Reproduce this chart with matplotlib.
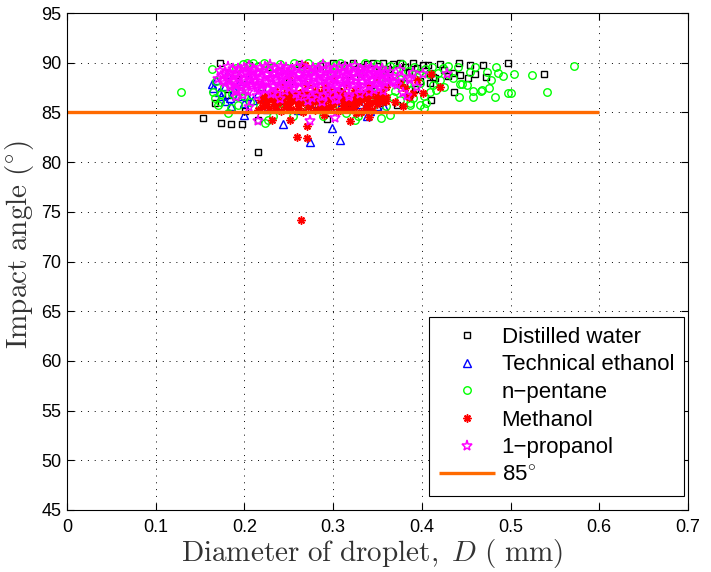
import matplotlib
matplotlib.use("Agg")
import matplotlib.pyplot as plt
from matplotlib.ticker import FixedLocator, FixedFormatter

plt.rcParams["font.family"] = ["Liberation Sans", "DejaVu Sans"]
plt.rcParams["mathtext.fontset"] = "cm"

# ---- measured droplets: diameter D (mm) and impact angle (deg) ----
water_d = [0.172, 0.205, 0.228, 0.262, 0.285, 0.300, 0.312, 0.322, 0.331, 0.338,
           0.345, 0.352, 0.356, 0.362, 0.368, 0.375, 0.381, 0.386, 0.390, 0.395,
           0.401, 0.407, 0.409, 0.412, 0.415, 0.420, 0.425, 0.430, 0.435, 0.436,
           0.442, 0.443, 0.452, 0.454, 0.460, 0.469, 0.472, 0.497, 0.538, 0.409,
           0.372, 0.392, 0.398, 0.380, 0.360, 0.343, 0.330, 0.315, 0.290, 0.250,
           0.220, 0.190, 0.240, 0.305, 0.350, 0.270,
           0.153, 0.174, 0.185, 0.197, 0.215, 0.215, 0.293, 0.167, 0.201, 0.240,
           0.320, 0.352, 0.385, 0.410, 0.182]
water_angle = [90.0, 89.8, 89.6, 89.9, 89.7, 90.0, 89.8, 90.0, 89.6, 89.9,
               90.0, 89.7, 90.0, 89.4, 89.9, 90.0, 89.6, 89.1, 90.0, 89.5,
               89.8, 89.8, 89.0, 88.6, 88.5, 89.9, 89.3, 88.7, 89.0, 87.1,
               90.0, 88.8, 88.5, 89.8, 88.9, 89.8, 88.6, 90.0, 88.9, 88.0,
               85.7, 87.4, 88.2, 88.0, 88.6, 87.8, 88.9, 88.3, 88.6, 88.1,
               87.6, 88.8, 89.2, 87.2, 86.1, 86.4,
               84.4, 83.9, 83.8, 83.8, 81.0, 84.2, 84.3, 85.9, 85.1, 85.5,
               85.3, 85.9, 86.7, 86.2, 86.8]

ethanol_d = [0.163, 0.165, 0.171, 0.174, 0.184, 0.185, 0.193, 0.199, 0.199, 0.203,
             0.168, 0.178, 0.188, 0.210, 0.243, 0.274, 0.299, 0.308, 0.319, 0.338,
             0.349, 0.330, 0.310, 0.296, 0.280, 0.260, 0.235, 0.225, 0.215, 0.195,
             0.180, 0.205, 0.250, 0.290, 0.335, 0.357, 0.342, 0.225, 0.270, 0.178]
ethanol_angle = [87.9, 87.5, 87.1, 86.6, 86.4, 85.6, 86.6, 85.9, 84.7, 86.6,
                 88.3, 87.7, 87.3, 86.2, 83.8, 82.0, 83.4, 82.2, 85.4, 84.6,
                 85.6, 85.8, 86.0, 85.5, 85.9, 85.2, 86.0, 86.5, 87.0, 88.2,
                 88.9, 88.5, 86.8, 87.2, 86.9, 85.5, 85.1, 85.3, 85.4, 86.1]

pentane_d = [0.129, 0.571, 0.541, 0.524, 0.504, 0.501, 0.492, 0.484, 0.486, 0.483,
             0.476, 0.467, 0.458, 0.458, 0.442, 0.441, 0.430, 0.435, 0.445, 0.451,
             0.454, 0.473, 0.460, 0.416, 0.409, 0.405, 0.398, 0.387, 0.402, 0.364,
             0.354, 0.368, 0.387, 0.398, 0.394, 0.402, 0.387, 0.497, 0.468, 0.443,
             0.478, 0.163, 0.165, 0.167, 0.170, 0.174, 0.182, 0.191, 0.193, 0.203,
             0.210, 0.223, 0.227, 0.168, 0.172, 0.185, 0.196, 0.177, 0.206, 0.218,
             0.232, 0.255, 0.289, 0.325, 0.328, 0.232, 0.265, 0.300, 0.315, 0.190,
             0.198, 0.215, 0.222, 0.232, 0.240, 0.248, 0.256, 0.265, 0.272, 0.280,
             0.287, 0.295, 0.302, 0.308, 0.316, 0.323, 0.330, 0.336, 0.343, 0.350,
             0.358, 0.364, 0.371, 0.378, 0.384, 0.391, 0.397, 0.404, 0.411, 0.418,
             0.424, 0.430, 0.420, 0.413, 0.425, 0.408, 0.375, 0.383, 0.360, 0.352,
             0.370, 0.345, 0.390, 0.375, 0.360, 0.345, 0.340, 0.183, 0.186, 0.200,
             0.240, 0.265, 0.285, 0.310, 0.330, 0.300, 0.270]
pentane_angle = [87.1, 89.7, 87.1, 88.8, 88.9, 87.0, 88.7, 89.6, 89.0, 86.5,
                 87.5, 87.2, 87.2, 86.5, 86.5, 89.6, 89.7, 88.5, 87.9, 87.8,
                 89.1, 89.1, 89.6, 87.3, 87.1, 85.9, 85.7, 85.9, 86.6, 84.7,
                 84.4, 86.5, 87.3, 88.0, 88.6, 85.4, 85.7, 87.0, 87.3, 87.9,
                 88.3, 89.4, 87.1, 86.4, 85.7, 86.9, 84.9, 86.6, 85.7, 90.0,
                 90.0, 83.9, 84.2, 88.2, 86.0, 85.4, 87.2, 87.6, 86.0, 85.6,
                 84.6, 84.6, 84.6, 84.2, 84.6, 86.4, 85.6, 85.3, 84.9, 89.5,
                 89.9, 89.7, 90.0, 89.6, 89.9, 89.5, 90.0, 89.7, 90.0, 89.6,
                 89.9, 89.4, 89.8, 90.0, 89.5, 89.8, 89.3, 90.0, 89.6, 89.9,
                 89.3, 89.7, 89.4, 89.9, 89.2, 89.6, 89.0, 89.4, 89.6, 89.0,
                 89.5, 88.9, 88.3, 87.8, 87.6, 88.9, 88.4, 87.9, 87.9, 88.5,
                 87.2, 87.0, 86.4, 86.2, 85.6, 85.7, 86.4, 87.9, 86.9, 86.7,
                 85.9, 86.3, 86.1, 86.3, 86.5, 89.1, 89.2]

methanol_d = [0.215, 0.228, 0.241, 0.253, 0.266, 0.279, 0.292, 0.305, 0.318, 0.331, 0.344,
              0.222, 0.235, 0.248, 0.260, 0.273, 0.286, 0.299, 0.312, 0.325, 0.338, 0.350,
              0.218, 0.231, 0.244, 0.257, 0.270, 0.283, 0.296, 0.309, 0.322, 0.335, 0.348, 0.360,
              0.226, 0.239, 0.252, 0.265, 0.278, 0.291, 0.304, 0.317, 0.330, 0.343, 0.356,
              0.235, 0.250, 0.265, 0.280, 0.295, 0.310, 0.325, 0.340, 0.355,
              0.245, 0.270, 0.290, 0.315, 0.340, 0.360,
              0.220, 0.234, 0.247, 0.260, 0.272, 0.285, 0.298, 0.311, 0.324, 0.337,
              0.225, 0.238, 0.251, 0.264, 0.277, 0.290, 0.303, 0.316, 0.329, 0.342, 0.355,
              0.222, 0.235, 0.248, 0.261, 0.274, 0.287, 0.300, 0.313, 0.326, 0.339, 0.352,
              0.232, 0.245, 0.258, 0.271, 0.284, 0.297, 0.310, 0.323, 0.336, 0.349,
              0.264, 0.259, 0.270, 0.270, 0.251, 0.231, 0.268, 0.326, 0.319, 0.379,
              0.390, 0.401, 0.381, 0.360, 0.370, 0.420, 0.395, 0.350, 0.300, 0.290,
              0.340, 0.250, 0.375, 0.410, 0.385]
methanol_angle = [85.2, 85.4, 85.1, 85.3, 85.0, 85.2, 85.4, 85.1, 85.3, 85.0, 85.2,
                  85.7, 85.8, 85.6, 85.9, 85.7, 85.6, 85.8, 85.7, 85.9, 85.6, 85.8,
                  86.2, 86.3, 86.1, 86.2, 86.4, 86.1, 86.3, 86.2, 86.0, 86.3, 86.2, 86.1,
                  86.7, 86.8, 86.6, 86.9, 86.7, 86.5, 86.8, 86.7, 86.6, 86.9, 86.7,
                  87.2, 87.3, 87.1, 87.2, 87.4, 87.1, 87.3, 87.2, 87.0,
                  87.7, 87.8, 87.6, 87.9, 87.7, 87.6,
                  85.5, 85.4, 85.5, 85.4, 85.5, 85.4, 85.5, 85.4, 85.5, 85.4,
                  86.0, 85.9, 86.0, 85.9, 86.0, 85.9, 86.0, 85.9, 86.0, 85.9, 86.0,
                  86.5, 86.4, 86.5, 86.4, 86.5, 86.4, 86.5, 86.4, 86.5, 86.4, 86.5,
                  87.0, 86.9, 87.0, 86.9, 87.0, 86.9, 87.0, 86.9, 87.0, 86.9,
                  74.2, 82.5, 82.4, 83.6, 84.2, 84.2, 89.8, 84.9, 84.1, 85.6,
                  87.0, 87.0, 87.5, 86.5, 86.0, 87.6, 88.3, 88.6, 88.4, 84.7,
                  84.5, 88.7, 87.9, 88.9, 86.5]

propanol_d = [0.181, 0.193, 0.205, 0.217, 0.229, 0.241, 0.253, 0.265, 0.277, 0.289,
              0.301, 0.313, 0.325, 0.337, 0.349,
              0.187, 0.199, 0.211, 0.223, 0.235, 0.247, 0.259, 0.271, 0.283, 0.295,
              0.307, 0.319, 0.331, 0.343, 0.355,
              0.172, 0.184, 0.196, 0.208, 0.220, 0.232, 0.244, 0.256, 0.268, 0.280,
              0.292, 0.304, 0.316, 0.328, 0.340, 0.352, 0.364,
              0.178, 0.190, 0.202, 0.214, 0.226, 0.238, 0.250, 0.262, 0.274, 0.286,
              0.298, 0.310, 0.322, 0.334, 0.346, 0.358,
              0.176, 0.188, 0.200, 0.212, 0.224, 0.236, 0.248, 0.260, 0.272, 0.284,
              0.296, 0.308, 0.320, 0.332, 0.344, 0.356, 0.368,
              0.182, 0.194, 0.206, 0.218, 0.230, 0.242, 0.254, 0.266, 0.278, 0.290,
              0.302, 0.314, 0.326, 0.338, 0.350, 0.362,
              0.170, 0.182, 0.194, 0.206, 0.218, 0.230, 0.242, 0.254, 0.266, 0.278,
              0.290, 0.302, 0.314, 0.326, 0.338, 0.350, 0.362,
              0.176, 0.188, 0.200, 0.212, 0.224, 0.236, 0.248, 0.260, 0.272, 0.284,
              0.296, 0.308, 0.320, 0.332, 0.344, 0.356, 0.368,
              0.178, 0.190, 0.202, 0.214, 0.226, 0.238, 0.250, 0.262, 0.274, 0.286,
              0.298, 0.310, 0.322, 0.334, 0.346, 0.358,
              0.184, 0.196, 0.208, 0.220, 0.232, 0.244, 0.256, 0.268, 0.280, 0.292,
              0.304, 0.316, 0.328, 0.340, 0.352,
              0.184, 0.196, 0.208, 0.220, 0.232, 0.244, 0.256, 0.268, 0.280, 0.292,
              0.304, 0.316, 0.328, 0.340, 0.352,
              0.190, 0.202, 0.214, 0.226, 0.238, 0.250, 0.330, 0.346,
              0.190, 0.204, 0.218, 0.232, 0.246, 0.300, 0.340, 0.356,
              0.198, 0.214, 0.230,
              0.258, 0.270, 0.282, 0.294, 0.306, 0.318, 0.330,
              0.262, 0.276, 0.290, 0.304, 0.318,
              0.272, 0.288, 0.302,
              0.376, 0.372,
              0.274, 0.302, 0.215, 0.205, 0.379, 0.387, 0.401, 0.428, 0.385, 0.383,
              0.375, 0.390, 0.370, 0.395, 0.240, 0.190]
propanol_angle = [89.6, 89.4, 89.7, 89.5, 89.8, 89.6, 89.3, 89.7, 89.5, 89.8,
                  89.4, 89.6, 89.7, 89.5, 89.3,
                  89.4, 89.5, 89.3, 89.6, 89.4, 89.5, 89.6, 89.3, 89.4, 89.5,
                  89.6, 89.4, 89.3, 89.5, 89.4,
                  89.2, 89.0, 89.3, 89.1, 89.2, 88.9, 89.3, 89.1, 89.0, 89.2,
                  89.3, 89.0, 89.2, 89.1, 89.3, 89.0, 89.1,
                  89.0, 88.9, 89.1, 89.0, 88.9, 89.1, 89.0, 88.9, 89.1, 89.0,
                  88.9, 89.1, 89.0, 89.1, 88.9, 89.0,
                  88.8, 88.7, 88.9, 88.6, 88.8, 88.9, 88.7, 88.8, 88.6, 88.9,
                  88.7, 88.8, 88.6, 88.9, 88.7, 88.8, 88.6,
                  88.6, 88.5, 88.7, 88.6, 88.5, 88.7, 88.6, 88.5, 88.7, 88.6,
                  88.5, 88.7, 88.6, 88.5, 88.7, 88.6,
                  88.4, 88.3, 88.5, 88.2, 88.4, 88.5, 88.3, 88.4, 88.2, 88.5,
                  88.3, 88.4, 88.2, 88.5, 88.3, 88.4, 88.2,
                  88.2, 88.1, 88.3, 88.2, 88.1, 88.3, 88.2, 88.1, 88.3, 88.2,
                  88.1, 88.3, 88.2, 88.1, 88.3, 88.2, 88.1,
                  88.0, 87.9, 88.1, 87.8, 88.0, 88.1, 87.9, 88.0, 87.8, 88.1,
                  87.9, 88.0, 87.8, 88.1, 87.9, 88.0,
                  87.8, 87.7, 87.9, 87.8, 87.7, 87.9, 87.8, 87.7, 87.9, 87.8,
                  87.7, 87.9, 87.8, 87.7, 87.9,
                  87.6, 87.5, 87.7, 87.4, 87.6, 87.7, 87.5, 87.6, 87.4, 87.7,
                  87.5, 87.6, 87.4, 87.7, 87.5,
                  87.4, 87.3, 87.5, 87.4, 87.3, 87.5, 87.4, 87.3,
                  87.2, 87.1, 87.3, 87.0, 87.2, 87.3, 87.1, 87.2,
                  86.8, 86.6, 86.9,
                  86.9, 87.0, 86.8, 86.9, 87.0, 86.8, 86.9,
                  86.5, 86.4, 86.6, 86.3, 86.5,
                  86.1, 86.0, 86.2,
                  88.6, 87.8,
                  84.1, 84.4, 84.1, 85.5, 87.0, 88.3, 88.9, 88.9, 88.5, 86.6,
                  89.3, 89.0, 88.0, 87.6, 86.3, 86.5]

reference_angle = 85
reference_d = [0.0, 0.6]

series_labels = ["Distilled water", "Technical ethanol", "n\u2212pentane",
                 "Methanol", "1\u2212propanol"]
reference_label = "85$^{\\circ}$"

x_ticks = [0, 0.1, 0.2, 0.3, 0.4, 0.5, 0.6, 0.7]
x_tick_labels = ["0", "0.1", "0.2", "0.3", "0.4", "0.5", "0.6", "0.7"]
y_ticks = [45, 50, 55, 60, 65, 70, 75, 80, 85, 90, 95]
y_tick_labels = [str(v) for v in y_ticks]

# ---- figure ----
W, H = 711, 572
fig = plt.figure(figsize=(W / 100, H / 100), dpi=100)
ax = fig.add_axes([67 / W, (H - 510) / H, 621 / W, 497 / H])

ax.plot(water_d, water_angle, linestyle="none", marker="s", ms=4.3,
        mfc="none", mec="black", mew=1.0, label=series_labels[0])
ax.plot(ethanol_d, ethanol_angle, linestyle="none", marker="^", ms=5.2,
        mfc="none", mec=(0, 0, 1), mew=1.0, label=series_labels[1])
ax.plot(pentane_d, pentane_angle, linestyle="none", marker="o", ms=5.4,
        mfc="none", mec=(0, 1, 0), mew=1.0, label=series_labels[2])
ax.plot(methanol_d, methanol_angle, linestyle="none", marker=(8, 2, 0), ms=5.8,
        mfc="none", mec=(1, 0, 0), mew=1.1, label=series_labels[3])
ax.plot(propanol_d, propanol_angle, linestyle="none", marker="*", ms=8,
        mfc="none", mec=(1, 0, 1), mew=1.1, label=series_labels[4])
ax.plot(reference_d, [reference_angle, reference_angle], color="#ff6a00",
        lw=2.4, solid_capstyle="butt", label=reference_label)

ax.set_xlim(0, 0.7)
ax.set_ylim(45, 95)
ax.xaxis.set_major_locator(FixedLocator(x_ticks))
ax.xaxis.set_major_formatter(FixedFormatter(x_tick_labels))
ax.yaxis.set_major_locator(FixedLocator(y_ticks))
ax.yaxis.set_major_formatter(FixedFormatter(y_tick_labels))

ax.set_axisbelow(True)
ax.grid(True, linestyle=(0, (1, 6)), color="black", linewidth=0.7)
ax.tick_params(direction="in", top=True, right=True, length=5, width=0.8,
               labelsize=13)
ax.tick_params(axis="x", pad=6.5)
ax.tick_params(axis="y", pad=4)
for s in ax.spines.values():
    s.set_linewidth(0.8)

label_color = "0.2"
ax.set_xlabel(r"$\mathrm{Diameter\ of\ droplet,}\ D\ (\ \mathrm{mm})$",
              fontsize=21, color=label_color)
ax.set_ylabel(r"$\mathrm{Impact\ angle\ (^{\circ})}$", fontsize=21,
              color=label_color)
ax.xaxis.set_label_coords((372 - 67) / 621, (510 - 537) / 497)
ax.yaxis.set_label_coords((36 - 67) / 621, (510 - 245) / 497)

leg = ax.legend(loc="lower right", bbox_to_anchor=(0.9936, 0.028),
                borderaxespad=0, fontsize=16, numpoints=1, handlelength=2.5,
                handletextpad=0.3, borderpad=0.45, labelspacing=0.3,
                fancybox=False, framealpha=1, edgecolor="black")
leg.get_frame().set_linewidth(0.8)

fig.savefig("out.png", dpi=100)
